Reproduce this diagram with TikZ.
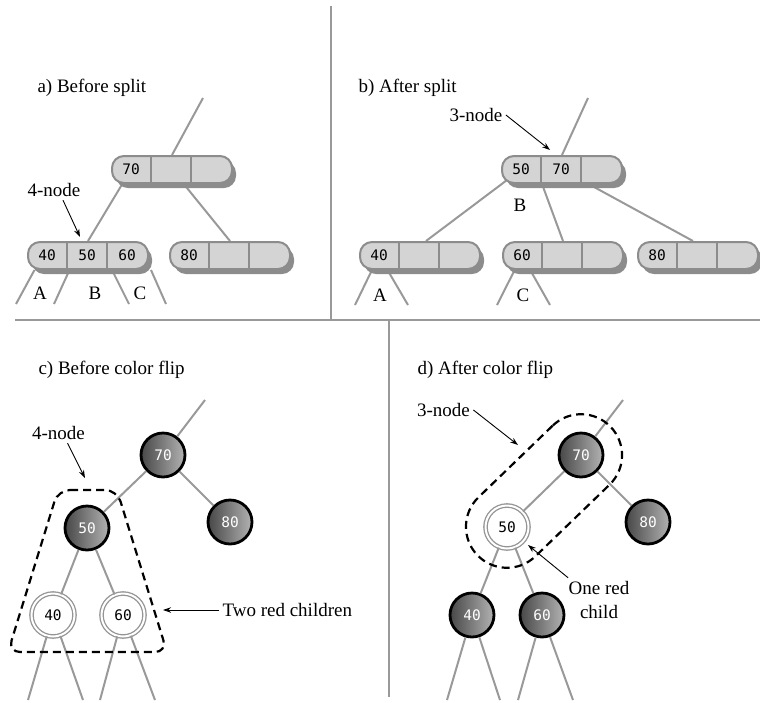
\documentclass[tikz,border=0pt]{standalone}
\usepackage{fontspec}
\setmainfont{Liberation Serif}
\newfontfamily\keyfont{DejaVu Sans Mono}
\usetikzlibrary{arrows.meta,shadows,backgrounds,calc}

% one 2-3-4 tree node with three key cells
\newcommand{\keyrow}[5]{%
  \node[tbox] (#1) at (#2) {};
  \draw[cellsep] ([xshift=40pt]#1.north west) -- ([xshift=40pt]#1.south west);
  \draw[cellsep] ([xshift=80pt]#1.north west) -- ([xshift=80pt]#1.south west);
  \node[keytext] (#1-1) at ([xshift=20pt]#1.west) {#3};
  \node[keytext] (#1-2) at ([xshift=60pt]#1.west) {#4};
  \node[keytext] (#1-3) at ([xshift=100pt]#1.west) {#5};
}

\begin{document}
\begin{tikzpicture}[
  x=1pt,y=-1pt,
  >=Stealth,
  lbl/.style={font=\fontsize{19}{24}\selectfont},
  keytext/.style={font=\keyfont\fontsize{14.5}{16}\selectfont,inner sep=1pt},
  tbox/.style={draw=black!45,fill=black!17,line width=2pt,rounded corners=12pt,
    minimum width=120pt,minimum height=27pt,inner sep=0pt,
    drop shadow={shadow xshift=4pt,shadow yshift=-5pt,fill=black!45,opacity=1}},
  cellsep/.style={black!45,line width=2pt},
  branch/.style={black!40,line width=2pt},
  divider/.style={black!40,line width=2pt},
  pointer/.style={-{Stealth[length=8pt,width=5.5pt]},line width=.9pt},
  blacknode/.style={circle,draw=black,line width=2.8pt,minimum size=44pt,inner sep=0pt,
    left color=black!72,right color=black!30,text=white,
    font=\keyfont\fontsize{14.5}{16}\selectfont},
  rednode/.style={circle,draw=black!42,double=white,double distance=2pt,line width=1.3pt,
    fill=white,minimum size=43pt,inner sep=0pt,font=\keyfont\fontsize{14.5}{16}\selectfont},
  groupline/.style={line width=2.2pt,dash pattern=on 8pt off 5pt},
]
  \useasboundingbox (0,0) rectangle (760,702);

  % panel frame
  \draw[divider] (331,6) -- (331,320);
  \draw[divider] (15,320) -- (760,320);
  \draw[divider] (389,320) -- (389,697);

  % a) before split
  \node[lbl,anchor=west] (alabel) at (34,88) {a) Before split};
  \keyrow{a70}{172,169.5}{70}{}{}
  \keyrow{a4}{88,255.5}{40}{50}{60}
  \keyrow{a80}{230,255.5}{80}{}{}
  \coordinate (aup) at (203,98);
  \coordinate (aA1) at (16,304);
  \coordinate (aA2) at (54,304);
  \coordinate (aC1) at (129,304);
  \coordinate (aC2) at (166,304);
  \node[lbl] (a4lbl) at (54,190) {4-node};
  \coordinate (atip) at (80,237);
  \draw[pointer] ([xshift=9pt]a4lbl.south) -- (atip);
  \node[lbl] (aA) at (40,293) {A};
  \node[lbl] (aB) at (95,293) {B};
  \node[lbl] (aC) at (140,293) {C};
  \begin{scope}[on background layer]
    \draw[branch] (a70.north) -- (aup);
    \draw[branch] (a70-1) -- (a4.north);
    \draw[branch] (a70) -- (a80.north);
    \draw[branch] ([xshift=7.5pt]a4.south west) -- (aA1);
    \draw[branch] ([xshift=42.5pt]a4.south west) -- (aA2);
    \draw[branch] ([xshift=85pt]a4.south west) -- (aC1);
    \draw[branch] ([xshift=124pt]a4.south west) -- (aC2);
  \end{scope}

  % b) after split
  \node[lbl,anchor=west] (blabel) at (355,88) {b) After split};
  \keyrow{b50}{562,169.5}{50}{70}{}
  \keyrow{b40}{420,255.5}{40}{}{}
  \keyrow{b60}{563,255.5}{60}{}{}
  \keyrow{b80}{698,255.5}{80}{}{}
  \coordinate (bup) at (588,98);
  \coordinate (bA1) at (355,305);
  \coordinate (bA2) at (408,305);
  \coordinate (bC1) at (497,305);
  \coordinate (bC2) at (550,305);
  \node[lbl] (b3lbl) at (476,115) {3-node};
  \coordinate (btip) at (550,150);
  \draw[pointer] (b3lbl.east) -- (btip);
  \node[lbl] (bB) at (520,205) {B};
  \node[lbl] (bA) at (380,295) {A};
  \node[lbl] (bC) at (523,295) {C};
  \begin{scope}[on background layer]
    \draw[branch] (b50.north) -- (bup);
    \draw[branch] (b50-1) -- ([xshift=6pt]b40.north);
    \draw[branch] ([xshift=41pt]b50.south west) -- (b60.north);
    \draw[branch] (b50) -- ([xshift=-5pt]b80.north);
    \draw[branch] (b40-1) -- (bA1);
    \draw[branch] (b40-1) -- (bA2);
    \draw[branch] (b60-1) -- (bC1);
    \draw[branch] (b60-1) -- (bC2);
  \end{scope}

  % c) before color flip
  \node[lbl,anchor=west] (clabel) at (35,370) {c) Before color flip};
  \node[blacknode] (c70) at (163,455) {70};
  \node[blacknode] (c80) at (230,522) {80};
  \node[blacknode] (c50) at (87,528) {50};
  \node[rednode] (c40) at (53,615) {40};
  \node[rednode] (c60) at (123,615) {60};
  \coordinate (cup) at (205,400);
  \coordinate (c40l) at (28,700);
  \coordinate (c40r) at (83,700);
  \coordinate (c60l) at (100,700);
  \coordinate (c60r) at (155,700);
  \draw[branch] (c70) -- (cup);
  \draw[branch] (c70) -- (c50);
  \draw[branch] (c70) -- (c80);
  \draw[branch] (c50) -- (c40);
  \draw[branch] (c50) -- (c60);
  \draw[branch] (c40) -- (c40l);
  \draw[branch] (c40) -- (c40r);
  \draw[branch] (c60) -- (c60l);
  \draw[branch] (c60) -- (c60r);
  \draw[groupline,rounded corners=12pt] (58,490) -- (117,490) -- (167,652) -- (8,652) -- cycle;
  \node[lbl] (c4lbl) at (58.5,433) {4-node};
  \coordinate (ctip) at (85,478);
  \draw[pointer] ([xshift=9pt]c4lbl.south) -- (ctip);
  \node[lbl,anchor=west] (c2lbl) at (219,610) {Two red children};
  \coordinate (ctip2) at (163,610);
  \draw[pointer] (c2lbl.west) -- (ctip2);

  % d) after color flip
  \node[lbl,anchor=west] (dlabel) at (414,370) {d) After color flip};
  \node[blacknode] (d70) at (581,455) {70};
  \node[blacknode] (d80) at (648,522) {80};
  \node[rednode] (d50) at (507,527) {50};
  \node[blacknode] (d40) at (472,615) {40};
  \node[blacknode] (d60) at (542,615) {60};
  \coordinate (dup) at (623,400);
  \coordinate (d40l) at (447,700);
  \coordinate (d40r) at (500,700);
  \coordinate (d60l) at (518,700);
  \coordinate (d60r) at (573,700);
  \draw[branch] (d70) -- (dup);
  \draw[branch] (d70) -- (d50);
  \draw[branch] (d70) -- (d80);
  \draw[branch] (d50) -- (d40);
  \draw[branch] (d50) -- (d60);
  \draw[branch] (d40) -- (d40l);
  \draw[branch] (d40) -- (d40r);
  \draw[branch] (d60) -- (d60l);
  \draw[branch] (d60) -- (d60r);
  \node[groupline,draw,rounded corners=41pt,minimum width=185pt,minimum height=82pt,
    inner sep=0pt,rotate=44] (dgroup) at ($(d70)!0.5!(d50)$) {};
  \node[lbl] (d3lbl) at (443.5,410) {3-node};
  \coordinate (dtip) at (518,445);
  \draw[pointer] (d3lbl.east) -- (dtip);
  \node[lbl,align=center] (d1lbl) at (599,600) {One red\\child};
  \coordinate (dtip2) at (528,545);
  \draw[pointer] ([xshift=3pt]d1lbl.north west) -- (dtip2);
\end{tikzpicture}
\end{document}
